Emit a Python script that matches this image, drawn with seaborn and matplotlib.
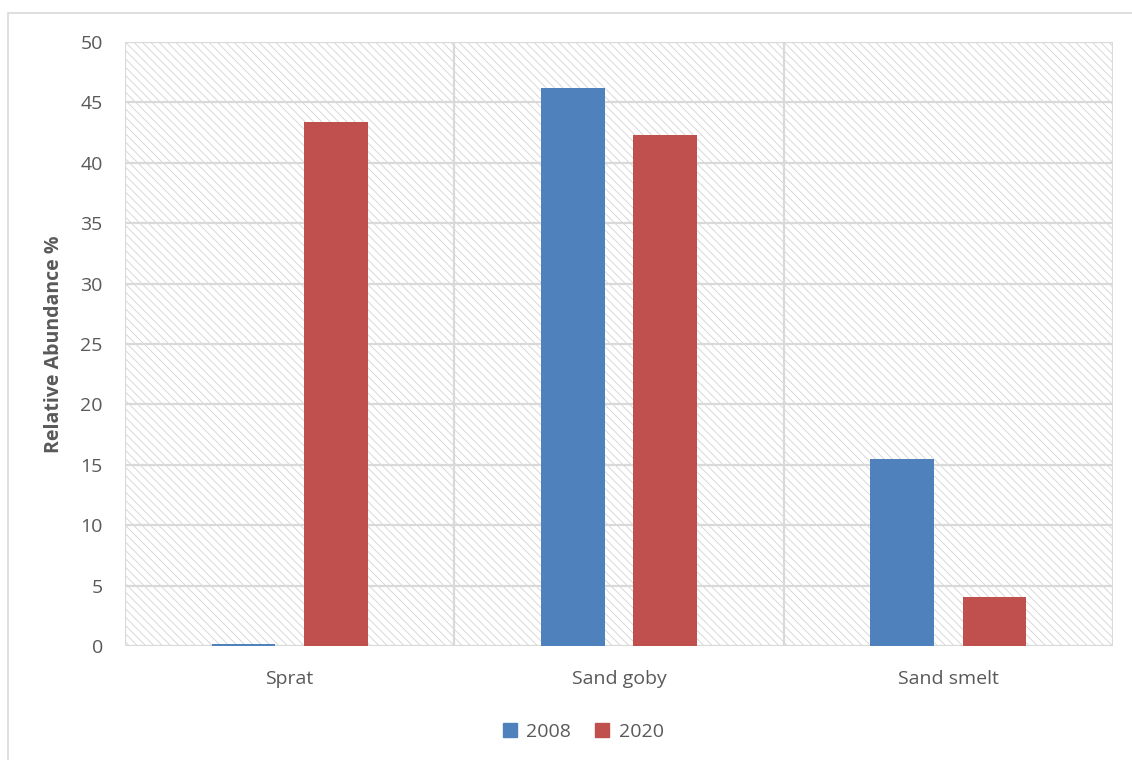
import matplotlib
matplotlib.use("Agg")
import matplotlib.pyplot as plt
import seaborn as sns
import pandas as pd
from matplotlib.patches import Rectangle
from matplotlib.lines import Line2D

species = ["Sprat", "Sand goby", "Sand smelt"]
years = ["2008", "2020"]
values_2008 = [0.2, 46.2, 15.5]
values_2020 = [43.4, 42.3, 4.05]
yticks = [0, 5, 10, 15, 20, 25, 30, 35, 40, 45, 50]

df = pd.DataFrame({
    "Species": species * 2,
    "Year": [years[0]] * 3 + [years[1]] * 3,
    "Value": values_2008 + values_2020,
})

sns.set_theme(style="white")
plt.rcParams["font.family"] = ["Open Sans", "DejaVu Sans"]
plt.rcParams["hatch.linewidth"] = 0.6
plt.rcParams["hatch.color"] = "#d2d2d2"

fig = plt.figure(figsize=(11.32, 7.6), dpi=100)
ax = fig.add_axes([125/1132, 1-646/760, (1113-125)/1132, (646-42)/760])

# outer chart border
fig.patches.append(Rectangle((8/1132, -0.05), 1.2, 1-13/760+0.05, transform=fig.transFigure,
                             fill=False, edgecolor="#d9d9d9", linewidth=1.2, zorder=0))

# hatched plot background
ax.add_patch(Rectangle((0, 0), 1, 1, transform=ax.transAxes, facecolor="white",
                       hatch="\\\\\\\\", edgecolor="#d2d2d2",
                       linewidth=0, zorder=0))

palette = {"2008": "#4f81bd", "2020": "#c0504d"}
sns.barplot(data=df, x="Species", y="Value", hue="Year", hue_order=years, order=species,
            palette=palette, width=0.56, gap=0.31, saturation=1, ax=ax, legend=False,
            zorder=3, edgecolor="none", linewidth=0)

gridc = "#d9d9d9"
ax.set_ylim(0, 50)
ax.set_xlim(-0.5, 2.5)
ax.set_yticks(yticks)
ax.set_yticklabels([str(t) for t in yticks])
for t in yticks:
    ax.axhline(t, color=gridc, linewidth=1.6, zorder=1)
for xv in [-0.5, 0.5, 1.5, 2.5]:
    ax.axvline(xv, color=gridc, linewidth=1.6, zorder=1)
for s in ax.spines.values():
    s.set_visible(False)

ax.tick_params(axis="both", length=0, labelcolor="#595959")
ax.tick_params(axis="y", pad=16, labelsize=14)
ax.tick_params(axis="x", pad=17, labelsize=14)
ax.set_xlabel("")
ax.set_ylabel("Relative Abundance %", fontsize=14, fontweight="bold", color="#595959", labelpad=12)

handles = [Line2D([0], [0], marker="s", linestyle="none", markersize=10,
                  markerfacecolor=palette[y], markeredgecolor=palette[y]) for y in years]
fig.legend(handles, years, loc="center", bbox_to_anchor=(582/1132, 1-732/760), ncol=2,
           frameon=False, fontsize=14, labelcolor="#595959", handletextpad=0.35,
           columnspacing=1.1, handlelength=1.0)

fig.savefig("out.png", dpi=100, facecolor="white")
